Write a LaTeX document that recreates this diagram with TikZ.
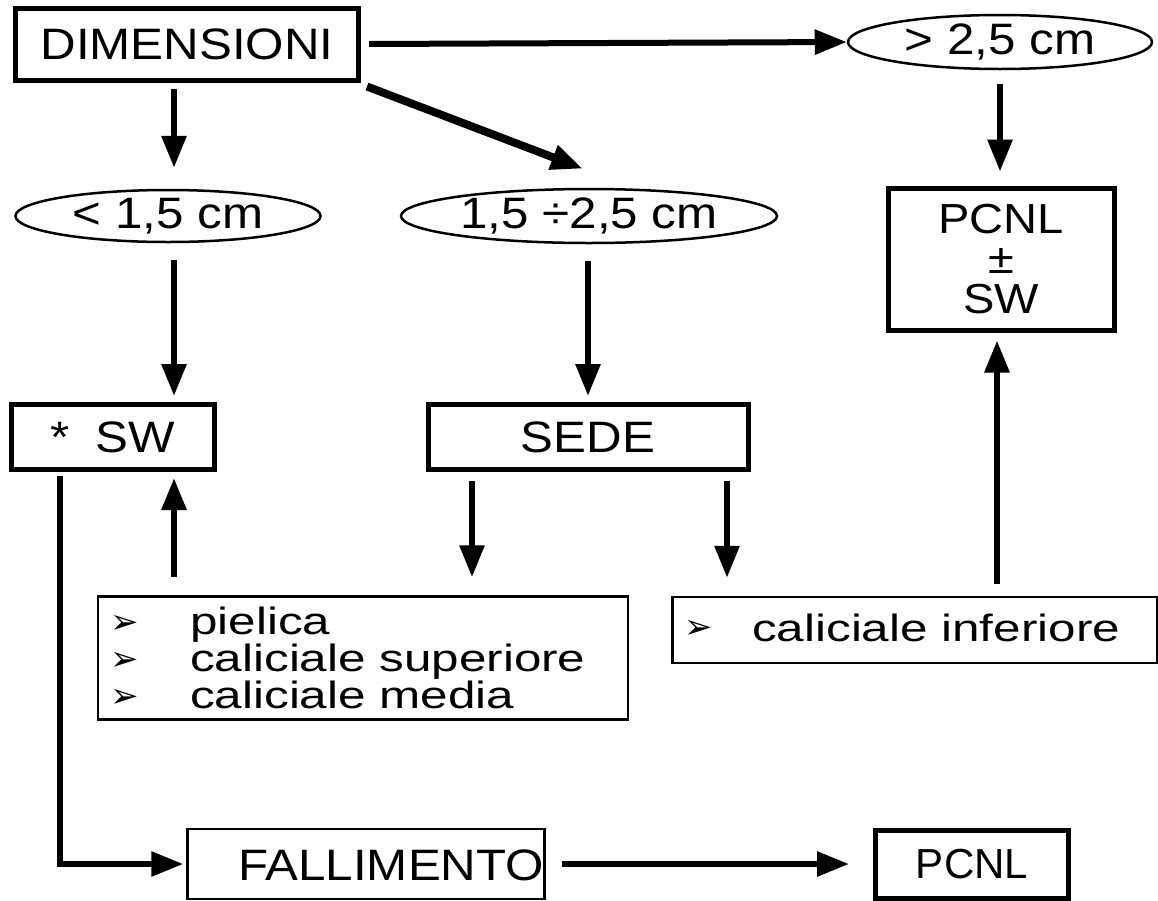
\documentclass[tikz,border=0pt]{standalone}
\usepackage{fontspec}
\setmainfont[FakeStretch=1.12]{Liberation Sans}
\newfontfamily\symfont{DejaVu Sans}
\newfontfamily\plainfont{Liberation Sans}
\newfontfamily\widefont[FakeStretch=1.3]{Liberation Sans}
\usetikzlibrary{arrows.meta,shapes.geometric,calc}
\tikzset{
  thickbox/.style={draw,line width=5pt,rectangle,inner sep=0pt,font=\fontsize{44}{50}\selectfont},
  thinbox/.style={draw,line width=2.5pt,rectangle,inner sep=0pt},
  oval/.style={draw,line width=2.5pt,ellipse,inner sep=0pt,font=\fontsize{44}{50}\selectfont},
  arr/.style={line width=6pt,-{Triangle[length=32pt,width=24pt]}},
  bul/.style={font=\symfont\fontsize{34}{36}\selectfont,anchor=base west,inner sep=0pt},
  itm/.style={font=\widefont\fontsize{38}{44}\selectfont,anchor=base west,inner sep=0pt}
}
\begin{document}
\begin{tikzpicture}[x=1pt,y=-1pt]
\useasboundingbox (0,0) rectangle (1158,900);
% nodes
\node[thickbox,minimum width=343pt,minimum height=72pt] (dim) at (187,44) {DIMENSIONI};
\node[oval,minimum width=304pt,minimum height=54pt] (gt) at (1000,42) {> 2,5 cm};
\node[oval,minimum width=305pt,minimum height=52pt] (lt) at (168,216) {< 1,5 cm};
\node[oval,minimum width=376pt,minimum height=54pt] (mid) at (589,216) {1,5 ÷2,5 cm};
\node[thickbox,minimum width=226pt,minimum height=142pt,align=center,font=\fontsize{42}{40}\selectfont] (pcsw) at (1001,259) {PCNL\\±\\SW};
\node[thickbox,minimum width=203pt,minimum height=65pt] (sw) at (113,437) {*\hspace{26pt}SW};
\node[thickbox,minimum width=320pt,minimum height=65pt] (sede) at (588,437) {SEDE};
\node[thinbox,minimum width=530pt,minimum height=123pt] (lista) at (363,658) {};
\node[thinbox,minimum width=485pt,minimum height=66pt] (listb) at (915,630) {};
\node[thinbox,minimum width=357pt,minimum height=70pt] (fall) at (366,864) {};
\node[thickbox,minimum width=193pt,minimum height=68pt,font=\plainfont\fontsize{42}{48}\selectfont] (pcnl) at (972,864) {PCNL};
% list texts
\node[bul] (b1) at (110,633) {➢};
\node[itm] (t1) at (190,634) {pielica};
\node[bul] (b2) at (110,670) {➢};
\node[itm] (t2) at (190,671) {caliciale superiore};
\node[bul] (b3) at (110,707) {➢};
\node[itm] (t3) at (190,708) {caliciale media};
\node[bul] (b4) at (684,638) {➢};
\node[itm] (t4) at (752,641) {caliciale inferiore};
\node[itm,font=\fontsize{44}{50}\selectfont] (ft) at (238,880) {FALLIMENTO};
% connectors
\draw[arr] ($(dim.east)+(8,0)$) -- (gt.west);
\draw[arr] ($(dim.south)+(-13,6)$) -- ($(lt.north)+(6,-21)$);
\draw[arr,line width=8pt] ($(dim.south east)+(6,4)$) -- ($(mid.north)+(-6,-19)$);
\draw[arr] ($(gt.south)+(0,14)$) -- ($(pcsw.north)+(-1,-14)$);
\draw[arr] ($(lt.south)+(6,17)$) -- ($(sw.north)+(61,-6)$);
\draw[arr] ($(mid.south)+(-1,17)$) -- ($(sede.north)+(0,-6)$);
\draw[arr] ($(sede.south)+(-116,9)$) -- ($(lista.north)+(109,-18)$);
\draw[arr] ($(sede.south)+(139,9)$) -- ($(listb.north)+(-188,-18)$);
\draw[arr] ($(lista.north)+(-189,-18)$) -- ($(sw.south)+(61,6)$);
\draw[arr] ($(listb.north)+(82,-12)$) -- ($(pcsw.south)+(-4,8)$);
\draw[arr] ($(sw.south)+(-53,4)$) |- ($(fall.west)+(-3,0)$);
\draw[arr] ($(fall.east)+(16,0)$) -- ($(pcnl.west)+(-24,0)$);
\end{tikzpicture}
\end{document}
